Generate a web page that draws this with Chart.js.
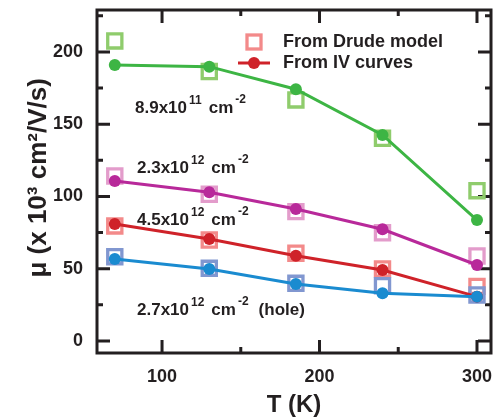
<!DOCTYPE html>
<html><head><meta charset="utf-8">
<script src="https://cdn.jsdelivr.net/npm/chart.js@4.4.0/dist/chart.umd.min.js"></script>
<style>html,body{margin:0;padding:0;background:#fff;overflow:hidden;width:495px;height:420px;} canvas{display:block;}</style>
</head><body><canvas id="c" width="495" height="420" style="width:495px;height:420px;"></canvas>
<script>
const temps = [70, 130, 185, 240, 300];
const ivGreen = [191.0, 189.8, 174.2, 142.6, 83.7];
const drudeGreen = [207.6, 186.4, 166.8, 140.3, 104.0];
const ivMagenta = [110.7, 102.9, 91.3, 77.3, 52.6];
const drudeMagenta = [114.2, 101.5, 89.5, 74.9, 58.8];
const ivRed = [81.0, 70.6, 59.0, 49.1, 30.7];
const drudeRed = [79.6, 69.9, 60.7, 49.8, 37.8];
const ivBlue = [56.7, 49.8, 39.4, 33.0, 30.7];
const drudeBlue = [58.3, 50.3, 39.9, 38.2, 31.8];
const xTicks = [100, 200, 300];
const xMinor = [150, 250];
const yTicks = [0, 50, 100, 150, 200];
const yMinor = [25, 75, 125, 175, 225];
const legendLabels = ['From Drude model', 'From IV curves'];
const labelMain = ['8.9x10', '2.3x10', '4.5x10', '2.7x10'];
const labelExp = ['11', '12', '12', '12'];
const labelUnit = 'cm';
const labelUnitExp = '-2';
const labelSuffix = ['', '', '', '(hole)'];
const xTitle = 'T (K)';
const yTitle = ' μ (x 10³ cm²/V/s)';

const FONT = '"Liberation Sans", Arial, Helvetica, sans-serif';
const INK = '#231f20';
const C = {
  green: '#3db544', greenL: '#8fcc6c',
  mag: '#b8299a', magL: '#e39ccb',
  red: '#cf2229', redL: '#f38a8a',
  blue: '#1a8bd0', blueL: '#8197d0'
};
const pts = arr => temps.map((t, i) => ({x: t, y: arr[i]}));
const ivSet = (arr, col) => ({data: pts(arr), borderColor: col, backgroundColor: col, borderWidth: 3,
  pointRadius: 6, pointBorderWidth: 0, pointHoverRadius: 6, showLine: true, tension: 0});
const drSet = (arr, col) => ({data: pts(arr), borderColor: col, backgroundColor: 'rgba(0,0,0,0)', showLine: false,
  pointStyle: 'rect', pointRadius: 10, pointBorderWidth: 3.3, pointHoverRadius: 10});

const framePlugin = {
  id: 'frame',
  beforeDatasetsDraw(chart) {
    const {ctx, chartArea: a, scales: {x, y}} = chart;
    ctx.save();
    ctx.strokeStyle = INK;
    ctx.lineWidth = 3;
    ctx.lineCap = 'butt';
    ctx.strokeRect(a.left, a.top, a.right - a.left, a.bottom - a.top);
    const maj = 13, min = 6;
    ctx.beginPath();
    const xt = (v, len) => { const p = x.getPixelForValue(v);
      ctx.moveTo(p, a.bottom); ctx.lineTo(p, a.bottom - len);
      ctx.moveTo(p, a.top); ctx.lineTo(p, a.top + len); };
    const yt = (v, len) => { const p = y.getPixelForValue(v);
      ctx.moveTo(a.left, p); ctx.lineTo(a.left + len, p);
      ctx.moveTo(a.right, p); ctx.lineTo(a.right - len, p); };
    xTicks.forEach(v => xt(v, maj)); xMinor.forEach(v => xt(v, min));
    yTicks.forEach(v => yt(v, maj)); yMinor.forEach(v => yt(v, min));
    ctx.stroke();
    ctx.restore();
  },
  afterDatasetsDraw(chart) {
    const {ctx} = chart;
    ctx.save();
    // legend
    ctx.strokeStyle = C.redL; ctx.lineWidth = 3.3;
    ctx.strokeRect(247, 35, 14, 14);
    ctx.strokeStyle = C.red; ctx.lineWidth = 3;
    ctx.beginPath(); ctx.moveTo(238, 63); ctx.lineTo(270, 63); ctx.stroke();
    ctx.fillStyle = C.red; ctx.beginPath(); ctx.arc(254, 63, 6, 0, Math.PI * 2); ctx.fill();
    ctx.fillStyle = INK;
    ctx.font = 'bold 18px ' + FONT;
    ctx.textBaseline = 'middle';
    ctx.fillText(legendLabels[0], 283, 42);
    ctx.fillText(legendLabels[1], 283, 63);
    // annotations
    ctx.textBaseline = 'alphabetic';
    const xs = [135, 137, 137, 137], ys = [113, 173, 225, 315];
    labelMain.forEach((m, i) => {
      let px = xs[i]; const by = ys[i];
      ctx.font = 'bold 17px ' + FONT; ctx.fillText(m, px, by); px += ctx.measureText(m).width + 2;
      ctx.font = 'bold 12px ' + FONT; ctx.fillText(labelExp[i], px, by - 9); px += ctx.measureText(labelExp[i]).width + 7;
      ctx.font = 'bold 17px ' + FONT; ctx.fillText(labelUnit, px, by); px += ctx.measureText(labelUnit).width + 2;
      ctx.font = 'bold 12px ' + FONT; ctx.fillText(labelUnitExp, px, by - 10); px += ctx.measureText(labelUnitExp).width + 10;
      if (labelSuffix[i]) { ctx.font = 'bold 17px ' + FONT; ctx.fillText(labelSuffix[i], px, by); }
    });
    ctx.restore();
  }
};

new Chart(document.getElementById('c'), {
  type: 'scatter',
  data: { datasets: [
    ivSet(ivBlue, C.blue), ivSet(ivRed, C.red), ivSet(ivMagenta, C.mag), ivSet(ivGreen, C.green),
    drSet(drudeBlue, C.blueL), drSet(drudeRed, C.redL), drSet(drudeMagenta, C.magL), drSet(drudeGreen, C.greenL)
  ]},
  options: {
    responsive: false, maintainAspectRatio: false, animation: false, devicePixelRatio: 1,
    layout: {autoPadding: false, padding: {top: 10, right: 4, left: 0, bottom: 0}},
    plugins: {legend: {display: false}, tooltip: {enabled: false}},
    scales: {
      x: { type: 'linear', min: 58.7, max: 308.9,
        afterBuildTicks: s => { s.ticks = xTicks.map(v => ({value: v})); },
        afterFit: s => { s.height = 67; s.paddingLeft = 0; s.paddingRight = 0; },
        grid: {display: false, drawTicks: true, tickLength: 13}, border: {display: false},
        ticks: {color: INK, font: {family: FONT, size: 18, weight: 'bold'}, padding: 0, maxRotation: 0},
        title: {display: true, text: xTitle, color: INK, font: {family: FONT, size: 24, weight: 'bold'}, padding: {top: 0, bottom: 0}}
      },
      y: { type: 'linear', min: -8.3, max: 229,
        afterBuildTicks: s => { s.ticks = yTicks.map(v => ({value: v})); },
        afterFit: s => { s.width = 97; s.paddingTop = 0; s.paddingBottom = 0; },
        grid: {display: false, drawTicks: true, tickLength: 14}, border: {display: false},
        ticks: {color: INK, font: {family: FONT, size: 18, weight: 'bold'}, padding: 0},
        title: {display: true, text: yTitle, color: INK, font: {family: FONT, size: 26, weight: 'bold'}, padding: {top: 23, bottom: 0}}
      }
    }
  },
  plugins: [framePlugin]
});
</script></body></html>
